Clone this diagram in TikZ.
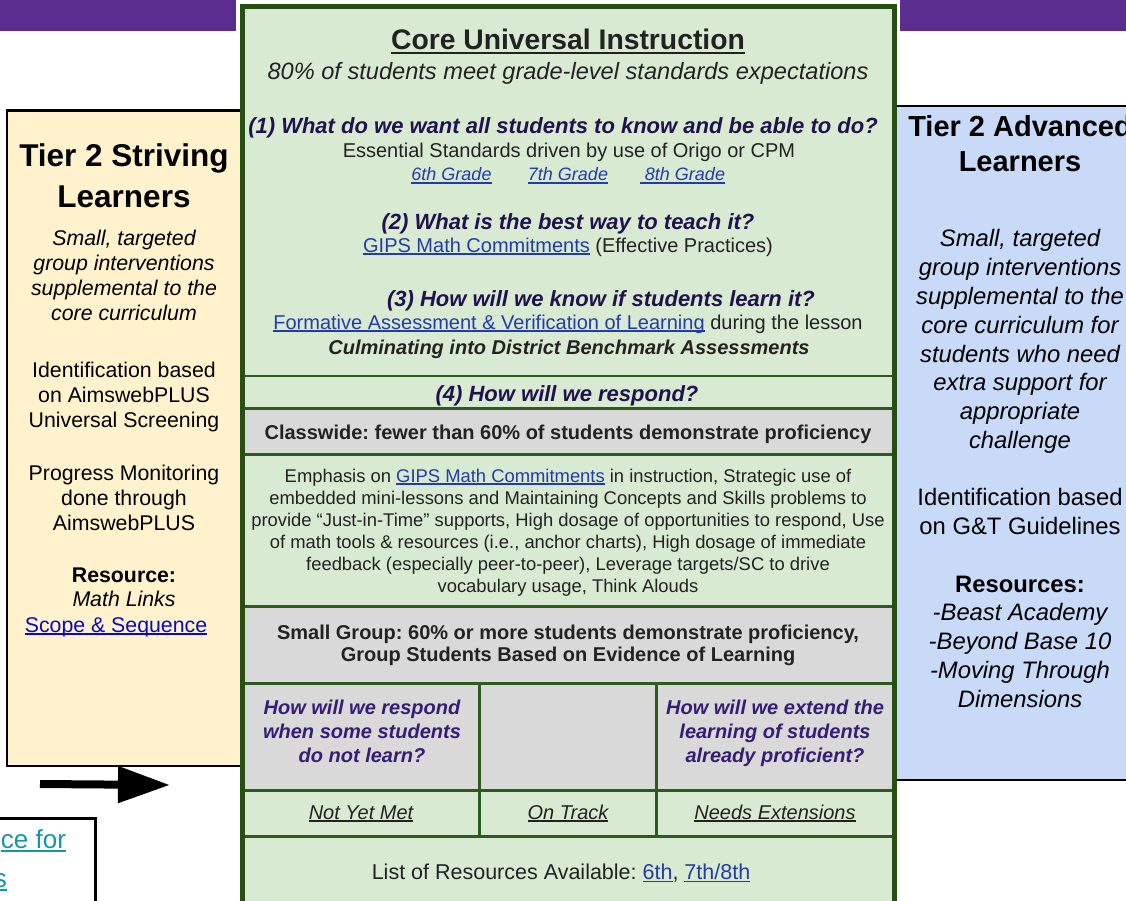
\documentclass[tikz,border=0pt]{standalone}
\usepackage{fontspec}
\setmainfont{Liberation Sans}
\usetikzlibrary{arrows.meta}
\frenchspacing
\definecolor{purp}{RGB}{91,45,142}
\definecolor{gfill}{RGB}{217,234,211}
\definecolor{grfill}{RGB}{217,217,217}
\definecolor{dkgreen}{RGB}{39,78,19}
\definecolor{rowline}{RGB}{45,90,30}
\definecolor{cream}{RGB}{255,242,204}
\definecolor{bluep}{RGB}{201,218,248}
\definecolor{txt}{RGB}{34,34,34}
\definecolor{qnavy}{RGB}{32,18,77}
\definecolor{cellq}{RGB}{53,28,117}
\definecolor{lnk}{RGB}{35,60,165}
\definecolor{lnkL}{RGB}{10,10,190}
\definecolor{teal}{RGB}{20,150,170}
\newcommand\myfs[1]{\fontsize{#1pt}{#1pt}\selectfont}
\newcommand\myul[1]{\setbox0\hbox{#1}\rlap{\rule[-0.14em]{\wd0}{0.07em}}\box0}
\begin{document}
\begin{tikzpicture}[x=1pt,y=-1pt,
  every node/.style={inner sep=0pt,outer sep=0pt,anchor=base},
  hdL/.style={font=\bfseries\myfs{31.5}},
  itL/.style={font=\itshape\myfs{21.3}},
  rgL/.style={font=\myfs{21.3}},
  bdL/.style={font=\bfseries\myfs{21.3}},
  hdR/.style={font=\bfseries\myfs{29}},
  itR/.style={font=\itshape\myfs{23.8}},
  rgR/.style={font=\myfs{23.8}},
  bdR/.style={font=\bfseries\myfs{23.8}},
  ttl/.style={font=\bfseries\myfs{28.3},text=txt},
  sub/.style={font=\itshape\myfs{23.6},text=txt},
  qst/.style={font=\bfseries\itshape\myfs{22},text=qnavy},
  body/.style={font=\myfs{20},text=txt},
  bodyb/.style={font=\bfseries\myfs{20},text=txt},
  bodybi/.style={font=\bfseries\itshape\myfs{20},text=txt},
  emph/.style={font=\myfs{18.4},text=txt},
  grade/.style={font=\itshape\myfs{18},text=lnk},
  cq/.style={font=\bfseries\itshape\myfs{20},text=cellq},
  klink/.style={font=\itshape\myfs{20},text=txt},
  rowsep/.style={draw=rowline,line width=3pt}
]
\useasboundingbox (0,0) rectangle (1126,901);
\clip (0,0) rectangle (1126,901);
\fill[white] (0,0) rectangle (1126,901);
% purple bars
\fill[purp] (0,0) rectangle (236,31.5);
\fill[purp] (900,0) rectangle (1126,31.5);
% side panels
\draw[fill=cream,line width=2.5pt] (7,110.5) rectangle (241,766);
\draw[fill=bluep,line width=2pt] (896,106.5) rectangle (1145,780);
% central table
\fill[gfill] (242.5,7) rectangle (894.5,920);
\fill[grfill] (242.5,408) rectangle (894.5,454);
\fill[grfill] (242.5,606) rectangle (894.5,790);
\draw[draw=rowline,line width=1.5pt] (242.5,376) -- (894.5,376);
\foreach \yy in {408,454,606,683,790,836} \draw[rowsep] (242.5,\yy) -- (894.5,\yy);
\draw[rowsep] (479,683) -- (479,836);
\draw[rowsep] (656,683) -- (656,836);
\draw[draw=dkgreen,line width=5pt] (242.5,930) -- (242.5,7) -- (894.5,7) -- (894.5,930);
% arrow
\coordinate (as) at (40,784);
\coordinate (ae) at (170,785);
\draw[line width=8pt,-{Triangle[length=52pt,width=35pt]}] (as) -- (ae);
% bottom-left box
\draw[fill=white,line width=3pt] (-10,818) rectangle (95.5,920);
\node[font=\myfs{26},text=teal,anchor=base east] (bl1) at (66,848) {\myul{ce for}};
\node[font=\myfs{26},text=teal,anchor=base east] (bl2) at (7,887) {\myul{s}};
% left panel text
\node[hdL] (l1) at (124,167) {Tier 2 Striving};
\node[hdL] (l2) at (124,208) {Learners};
\node[itL] (l3) at (124,245) {Small, targeted};
\node[itL] (l4) at (124,270) {group interventions};
\node[itL] (l5) at (124,295) {supplemental to the};
\node[itL] (l6) at (124,320) {core curriculum};
\node[rgL] (l7) at (124,377) {Identification based};
\node[rgL] (l8) at (124,402) {on AimswebPLUS};
\node[rgL] (l9) at (124,427) {Universal Screening};
\node[rgL] (l10) at (124,480) {Progress Monitoring};
\node[rgL] (l11) at (124,505) {done through};
\node[rgL] (l12) at (124,530) {AimswebPLUS};
\node[bdL] (l13) at (124,582) {Resource:};
\node[itL] (l14) at (124,606) {Math Links};
\node[rgL,text=lnkL] (l15) at (116,632) {\myul{Scope \& Sequence}};
% right panel text
\node[hdR] (r1) at (1020,137) {Tier 2 Advanced};
\node[hdR] (r2) at (1020,172) {Learners};
\node[itR] (r3) at (1020,247) {Small, targeted};
\node[itR] (r4) at (1020,276) {group interventions};
\node[itR] (r5) at (1020,304) {supplemental to the};
\node[itR] (r6) at (1020,333) {core curriculum for};
\node[itR] (r7) at (1020,362) {students who need};
\node[itR] (r8) at (1020,390) {extra support for};
\node[itR] (r9) at (1020,419) {appropriate};
\node[itR] (r10) at (1020,448) {challenge};
\node[rgR] (r11) at (1020,505) {Identification based};
\node[rgR] (r12) at (1020,534) {on G\&T Guidelines};
\node[bdR] (r13) at (1020,592) {Resources:};
\node[itR] (r14) at (1020,620) {-Beast Academy};
\node[itR] (r15) at (1020,649) {-Beyond Base 10};
\node[itR] (r16) at (1020,678) {-Moving Through};
\node[itR] (r17) at (1020,707) {Dimensions};
% central text
\node[ttl] (c1) at (568,50) {\myul{Core Universal Instruction}};
\node[sub] (c2) at (568,80) {80\% of students meet grade-level standards expectations};
\node[qst] (c3) at (563,134) {(1) What do we want all students to know and be able to do?};
\node[body] (c4) at (569,158) {Essential Standards driven by use of Origo or CPM};
\node[grade] (g1) at (451.5,181) {\myul{6th Grade}};
\node[grade] (g2) at (568,181) {\myul{7th Grade}};
\node[grade] (g3) at (682.5,181) {\myul{\ 8th Grade}};
\node[qst] (c5) at (568,230) {(2) What is the best way to teach it?};
\node[body] (c6) at (568,252) {\textcolor{lnk}{\myul{GIPS Math Commitments}} (Effective Practices)};
\node[qst] (c7) at (601,306) {(3) How will we know if students learn it?};
\node[body] (c8) at (568,329) {\textcolor{lnk}{\myul{Formative Assessment \& Verification of Learning}} during the lesson};
\node[bodybi] (c9) at (569,354) {Culminating into District Benchmark Assessments};
\node[qst] (c10) at (567,401) {(4) How will we respond?};
\node[bodyb] (c11) at (568,439) {Classwide: fewer than 60\% of students demonstrate proficiency};
\node[emph] (e1) at (568,482) {Emphasis on \textcolor{lnk}{\myul{GIPS Math Commitments}} in instruction, Strategic use of};
\node[emph] (e2) at (568,504) {embedded mini-lessons and Maintaining Concepts and Skills problems to};
\node[emph] (e3) at (568,526) {provide “Just-in-Time” supports, High dosage of opportunities to respond, Use};
\node[emph] (e4) at (568,548) {of math tools \& resources (i.e., anchor charts), High dosage of immediate};
\node[emph] (e5) at (568,570) {feedback (especially peer-to-peer), Leverage targets/SC to drive};
\node[emph] (e6) at (568,592) {vocabulary usage, Think Alouds};
\node[bodyb] (s1) at (568,639) {Small Group: 60\% or more students demonstrate proficiency,};
\node[bodyb] (s2) at (568,661) {Group Students Based on Evidence of Learning};
\node[cq] (qa1) at (362,714) {How will we respond};
\node[cq] (qa2) at (362,738) {when some students};
\node[cq] (qa3) at (362,762) {do not learn?};
\node[cq] (qc1) at (775,714) {How will we extend the};
\node[cq] (qc2) at (775,738) {learning of students};
\node[cq] (qc3) at (775,762) {already proficient?};
\node[klink] (k1) at (361,819) {\myul{Not Yet Met}};
\node[klink] (k2) at (568,819) {\myul{On Track}};
\node[klink] (k3) at (775,819) {\myul{Needs Extensions}};
\node[body,font=\myfs{21.5}] (lr) at (561,879) {List of Resources Available: \textcolor{lnk}{\myul{6th}}, \textcolor{lnk}{\myul{7th/8th}}};
\end{tikzpicture}
\end{document}
